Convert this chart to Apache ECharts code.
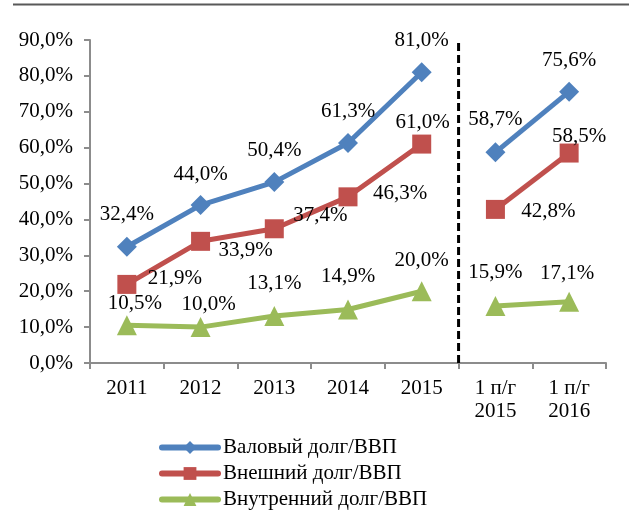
<!DOCTYPE html>
<html>
<head>
<meta charset="utf-8">
<script src="https://cdn.jsdelivr.net/npm/echarts@6/dist/echarts.min.js"></script>
<style>
  html, body { margin: 0; padding: 0; background: #fff; }
  #chart { width: 629px; height: 524px; }
</style>
</head>
<body>
<div id="chart"></div>
<script>
// categories and values (% of GDP)
var categories = ['2011', '2012', '2013', '2014', '2015', '1 п/г\n2015', '1 п/г\n2016']
var grossDebt = [32.4, 44.0, 50.4, 61.3, 81.0, 58.7, 75.6]
var externalDebt = [21.9, 33.9, 37.4, 46.3, 61.0, 42.8, 58.5]
var domesticDebt = [10.5, 10.0, 13.1, 14.9, 20.0, 15.9, 17.1]
var yTicks = [0, 10, 20, 30, 40, 50, 60, 70, 80, 90]
// first half-year column starts here, lines break before it
var breakIndex = 5

// label offsets from point centre
var grossLabelOffsets = [[0, -32], [0, -31], [0, -32], [0, -32], [0, -32], [0, -33], [0, -31]]
var externalLabelOffsets = [[48, -6], [45, 9], [46, -13], [52, -3], [1, -22], [53, 2], [10, -17]]
var domesticLabelOffsets = [[8, -22], [8, -23], [0, -33], [0, -33], [0, -31], [0, -33], [-2, -28]]

var font = '"Liberation Serif", "Times New Roman", serif'
var fontSize = 21
var axisColor = '#8c8c8c'

function fmt(v) {
  return Number(v).toFixed(1).replace('.', ',') + '%'
}

function part(values, offsets, first) {
  return values.map(function(v, i) {
    var inPart = first ? i < breakIndex : i >= breakIndex
    if (!inPart) return '-'
    return {
      value: v,
      label: { offset: offsets[i] }
    }
  })
}

function makeSeries(name, values, offsets, color, symbol, size) {
  var base = {
    name: name,
    type: 'line',
    symbol: symbol,
    symbolSize: size,
    lineStyle: { color: color, width: 5 },
    itemStyle: { color: color },
    label: {
      show: true,
      position: 'inside',
      color: '#000',
      fontFamily: font,
      fontSize: fontSize,
      formatter: function(p) { return fmt(p.value) }
    },
    emphasis: { disabled: true },
    animation: false
  }
  var a = Object.assign({}, base, { data: part(values, offsets, true) })
  var b = Object.assign({}, base, { data: part(values, offsets, false) })
  return [a, b]
}

var chart = echarts.init(document.getElementById('chart'))

var series = []
  .concat(makeSeries('Валовый долг/ВВП', grossDebt, grossLabelOffsets, '#4F81BD', 'diamond', 20))
  .concat(makeSeries('Внешний долг/ВВП', externalDebt, externalLabelOffsets, '#C0504D', 'rect', 19))
  .concat(makeSeries('Внутренний долг/ВВП', domesticDebt, domesticLabelOffsets, '#9BBB59', 'triangle', 20))

// dashed divider between yearly and half-year data
series.push({
  name: 'divider',
  type: 'line',
  xAxisIndex: 1,
  data: [[breakIndex, yTicks[0]], [breakIndex, yTicks[yTicks.length - 1]]],
  symbol: 'none',
  lineStyle: { color: '#000', width: 3, type: [8, 4] },
  silent: true,
  animation: false,
  z: 1
})

chart.setOption({
  textStyle: { fontFamily: font },
  grid: { left: 90, right: 23, top: 40, bottom: 161 },
  legend: {
    data: ['Валовый долг/ВВП', 'Внешний долг/ВВП', 'Внутренний долг/ВВП'],
    orient: 'vertical',
    left: 154,
    top: 432,
    itemWidth: 56,
    itemHeight: 16,
    itemGap: 5,
    itemStyle: { borderWidth: 0 },
    lineStyle: { width: 6, cap: 'round' },
    textStyle: { fontFamily: font, fontSize: fontSize, color: '#000' },
    selectedMode: false
  },
  xAxis: [
    {
      type: 'category',
      data: categories,
      boundaryGap: true,
      axisLine: { lineStyle: { color: axisColor, width: 2 } },
      axisTick: { show: true, length: 6, lineStyle: { color: axisColor, width: 2 } },
      axisLabel: {
        color: '#000',
        fontFamily: font,
        fontSize: fontSize,
        lineHeight: 23,
        margin: 14,
        interval: 0
      }
    },
    {
      type: 'value',
      min: 0,
      max: categories.length,
      show: false
    }
  ],
  yAxis: {
    type: 'value',
    min: yTicks[0],
    max: yTicks[yTicks.length - 1],
    interval: 10,
    splitLine: { show: false },
    axisLine: { show: true, lineStyle: { color: axisColor, width: 2 } },
    axisTick: { show: true, length: 6, lineStyle: { color: axisColor, width: 2 } },
    axisLabel: {
      color: '#000',
      fontFamily: font,
      fontSize: fontSize,
      margin: 17,
      formatter: fmt
    }
  },
  graphic: [
    {
      type: 'line',
      shape: { x1: 13, y1: 4.5, x2: 629, y2: 4.5 },
      style: { stroke: '#595959', lineWidth: 2 }
    }
  ],
  series: series
})
</script>
</body>
</html>
